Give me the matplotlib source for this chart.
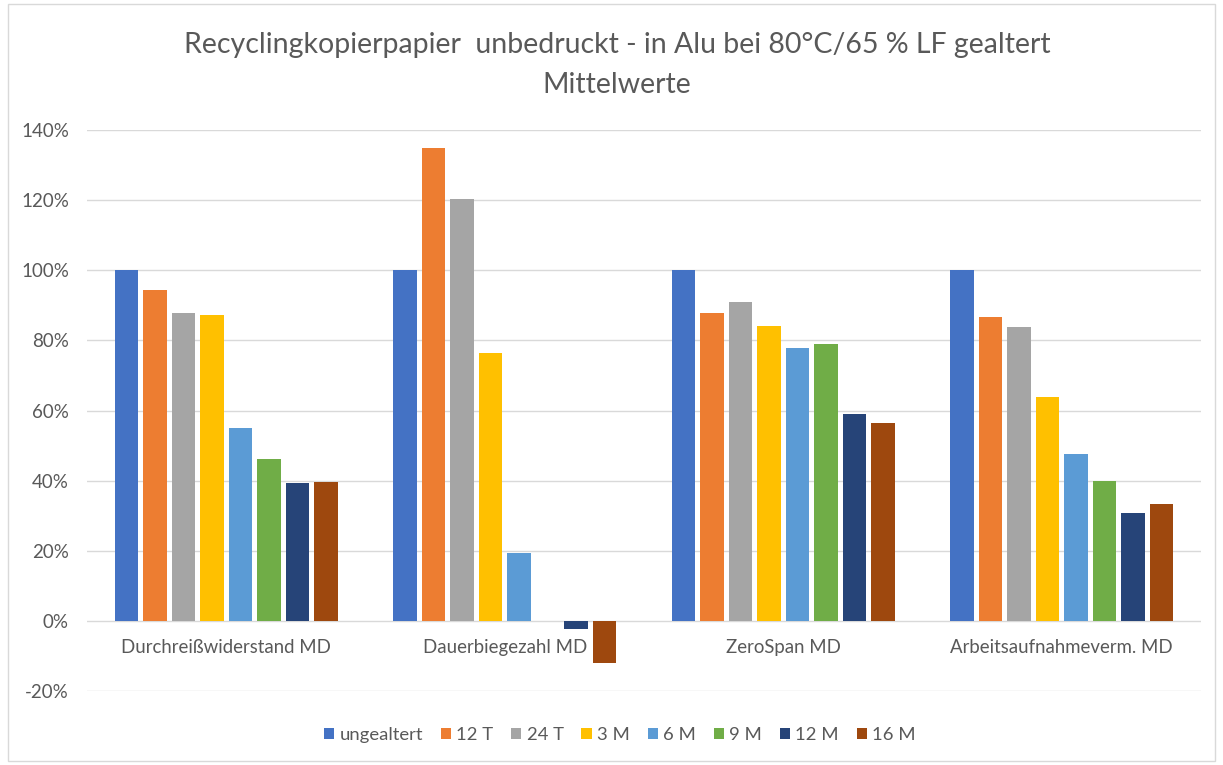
import matplotlib

matplotlib.use("Agg")
import matplotlib.pyplot as plt
import numpy as np
from matplotlib.patches import Rectangle
from matplotlib.ticker import FuncFormatter

TITLE_1 = "Recyclingkopierpapier  unbedruckt - in Alu bei 80°C/65 % LF gealtert"
TITLE_2 = "Mittelwerte"
CATEGORIES = ["Durchreißwiderstand MD", "Dauerbiegezahl MD", "ZeroSpan MD", "Arbeitsaufnahmeverm. MD"]
SERIES = ["ungealtert", "12 T", "24 T", "3 M", "6 M", "9 M", "12 M", "16 M"]
# values in percent, one list per series (order follows CATEGORIES)
UNGEALTERT = [100.0, 100.0, 100.0, 100.0]
T12 = [94.4, 134.9, 87.8, 86.7]
T24 = [87.8, 120.3, 91.0, 83.8]
M3 = [87.3, 76.4, 84.1, 63.9]
M6 = [55.0, 19.4, 77.8, 47.6]
M9 = [46.2, 0.0, 79.0, 39.9]
M12 = [39.3, -2.3, 59.0, 30.8]
M16 = [39.6, -12.0, 56.5, 33.4]
VALUES = [UNGEALTERT, T12, T24, M3, M6, M9, M12, M16]
COLORS = ["#4472C4", "#ED7D31", "#A5A5A5", "#FFC000", "#5B9BD5", "#70AD47", "#264478", "#9E480E"]
YTICKS = [-20, 0, 20, 40, 60, 80, 100, 120, 140]

TEXT = "#595959"
GRID = "#D9D9D9"


def main() -> None:
    plt.rcParams.update({"font.family": ["Lato", "DejaVu Sans"]})
    W, H = 1223, 765
    fig = plt.figure(figsize=(W / 100, H / 100), dpi=100, facecolor="white")
    # axes box in pixels: x 87..1201, y 130..691
    ax = fig.add_axes([87 / W, 1 - 691 / H, (1201 - 87) / W, (691 - 130) / H])

    pitch = 0.1023
    width = 0.083
    x = np.arange(len(CATEGORIES))
    for i, (name, vals, color) in enumerate(zip(SERIES, VALUES, COLORS)):
        offset = (i - (len(SERIES) - 1) / 2) * pitch
        ax.bar(x + offset, vals, width=width, color=color, label=name, zorder=3)

    ax.set_xlim(-0.5, len(CATEGORIES) - 0.5)
    ax.set_ylim(-20, 140)
    ax.set_yticks(YTICKS)
    ax.yaxis.set_major_formatter(FuncFormatter(lambda v, _: f"{v:.0f}%"))
    ax.grid(axis="y", color=GRID, lw=1.0, zorder=0)
    ax.set_xticks([])
    for spine in ax.spines.values():
        spine.set_visible(False)
    ax.tick_params(axis="y", length=0, pad=13, labelsize=13.5, labelcolor=TEXT)

    for xi, cat in zip(x, CATEGORIES):
        ax.text(xi, -7.6, cat, ha="center", va="center", fontsize=13.4, color=TEXT, zorder=4)

    fig.text(617 / W, 1 - 45 / H, TITLE_1, ha="center", va="center", fontsize=20.5, color=TEXT)
    fig.text(617 / W, 1 - 85 / H, TITLE_2, ha="center", va="center", fontsize=20.5, color=TEXT)

    handles, labels = ax.get_legend_handles_labels()
    fig.legend(handles, labels, loc="center", bbox_to_anchor=(620 / W, 1 - 735 / H), ncol=8,
               frameon=False, fontsize=13.3, labelcolor=TEXT, handlelength=0.55, handleheight=0.55,
               handletextpad=0.3, columnspacing=0.95)

    fig.patches.append(Rectangle((8 / W, 4 / H), (1215 - 8) / W, (761 - 4) / H,
                                 transform=fig.transFigure, fill=False, edgecolor=GRID, lw=1.0))

    fig.savefig("out.png", dpi=100, facecolor="white")
    plt.close(fig)


if __name__ == "__main__":
    main()
